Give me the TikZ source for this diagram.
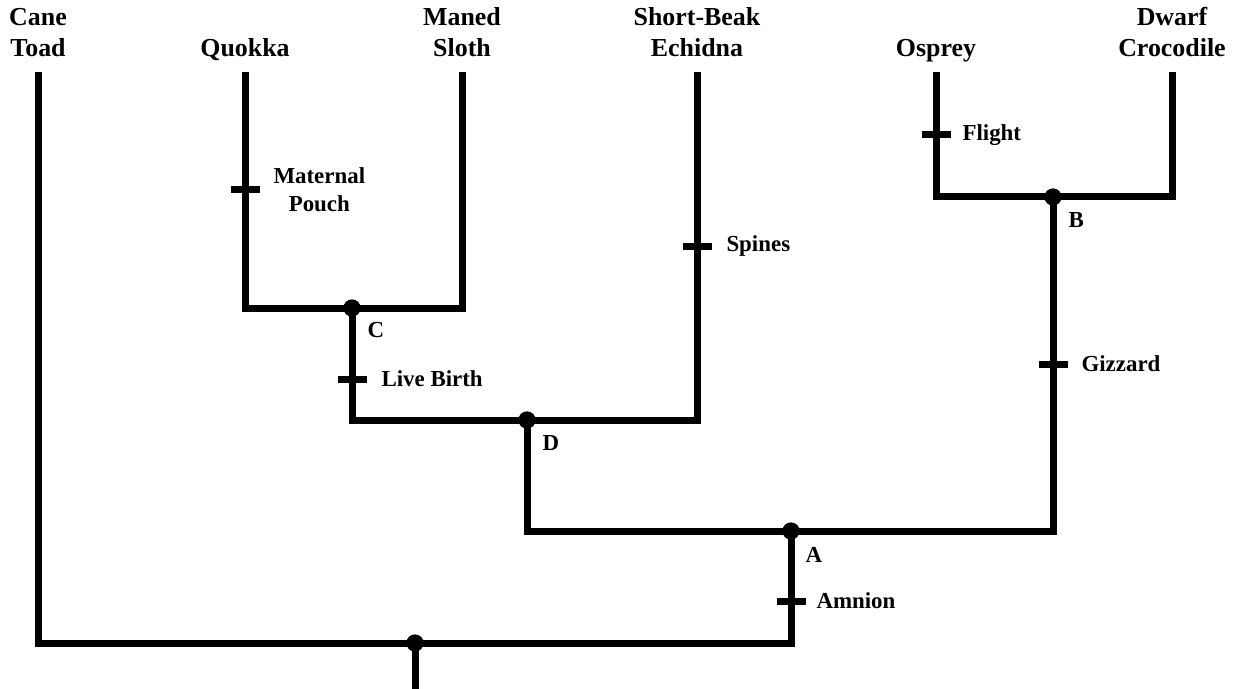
\documentclass[tikz,border=0pt]{standalone}
\usepackage{fontspec}
\setmainfont{Liberation Serif}
\begin{document}
\begin{tikzpicture}[x=1bp,y=-1bp,line width=7bp,
  taxon/.style={font=\bfseries\fontsize{26}{31}\selectfont,align=center,anchor=south,inner sep=0pt,text depth=0pt},
  trait/.style={font=\bfseries\fontsize{23}{28}\selectfont,align=center,anchor=west,inner sep=0pt},
  nodelbl/.style={font=\bfseries\fontsize{23}{28}\selectfont,anchor=base west,inner sep=0pt},
  dot/.style={circle,fill=black,draw=none,inner sep=0pt,minimum size=17bp},
  tickmark/.style={line width=7bp}]
\useasboundingbox (0,0) rectangle (1237,689);
% leaf tops
\coordinate (toad) at (38,72);
\coordinate (quokka) at (245,72);
\coordinate (sloth) at (462,72);
\coordinate (echidna) at (697,72);
\coordinate (osprey) at (936,72);
\coordinate (croc) at (1172,72);
\coordinate (rootend) at (415,689);
% internal nodes
\node[dot] (root) at (415,643) {};
\node[dot] (A) at (791,531) {};
\node[dot] (B) at (1053,197) {};
\node[dot] (C) at (352,308) {};
\node[dot] (D) at (527,420) {};
% taxon labels
\node[taxon] (ltoad) at (38,60) {Cane\\Toad};
\node[taxon] (lquokka) at (245,60) {Quokka};
\node[taxon] (lsloth) at (462,60) {Maned\\Sloth};
\node[taxon] (lechidna) at (697,60) {Short-Beak\\Echidna};
\node[taxon] (losprey) at (936,60) {Osprey};
\node[taxon] (lcroc) at (1172,60) {Dwarf\\Crocodile};
% branches
\draw (toad) |- (root.center) -| (A.center);
\draw (root.center) -- (rootend);
\draw (quokka) |- (C.center) -| (sloth);
\draw (C.center) |- (D.center) -| (echidna);
\draw (D.center) |- (A.center) -| (B.center);
\draw (osprey) |- (B.center) -| (croc);
% redraw dots on top
\foreach \p in {(415,643),(791,531),(1053,197),(352,308),(527,420)}
  \fill \p circle (8.5bp);
% node letters
\node[nodelbl] (lA) at ([shift={(11,31)}]A.center) {A};
\node[nodelbl] (lB) at ([shift={(12,31)}]B.center) {B};
\node[nodelbl] (lC) at ([shift={(12,29)}]C.center) {C};
\node[nodelbl] (lD) at ([shift={(12,30)}]D.center) {D};
% trait ticks
\coordinate (tpouch) at (245,190);
\coordinate (tbirth) at (352,379);
\coordinate (tspines) at (697,246);
\coordinate (tflight) at (936,135);
\coordinate (tgizzard) at (1053,364);
\coordinate (tamnion) at (791,601);
\foreach \t in {tpouch,tbirth,tspines,tflight,tgizzard,tamnion}
  \draw[tickmark] ([xshift=-14.5bp]\t) -- ([xshift=14.5bp]\t);
\node[trait] (lpouch) at ([xshift=25bp]tpouch) {Maternal\\Pouch};
\node[trait] (lbirth) at ([xshift=26bp]tbirth) {Live Birth};
\node[trait] (lspines) at ([xshift=26bp]tspines) {Spines};
\node[trait] (lflight) at ([xshift=23bp]tflight) {Flight};
\node[trait] (lgizzard) at ([xshift=25bp]tgizzard) {Gizzard};
\node[trait] (lamnion) at ([xshift=22bp]tamnion) {Amnion};
\end{tikzpicture}
\end{document}
